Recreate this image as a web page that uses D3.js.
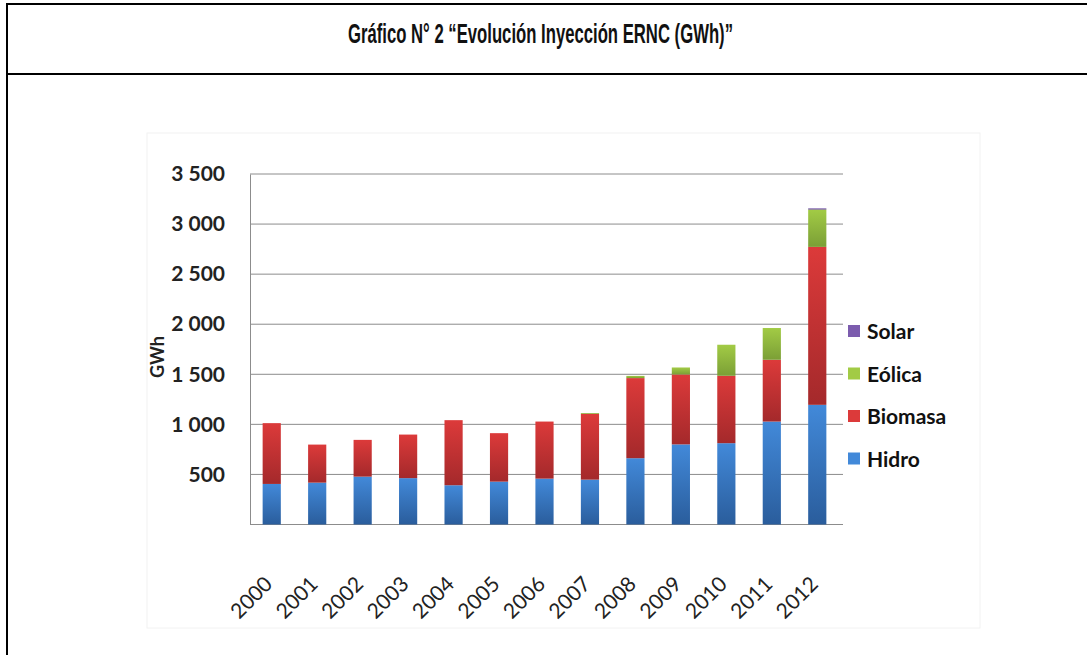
<!DOCTYPE html>
<html>
<head>
<meta charset="utf-8">
<script src="https://cdn.jsdelivr.net/npm/d3@7"></script>
<style>
  html, body { margin: 0; padding: 0; background: #fff; }
  svg { display: block; }
</style>
</head>
<body>
<div id="chart"></div>
<script>
const years = ['2000','2001','2002','2003','2004','2005','2006','2007','2008','2009','2010','2011','2012'];
const hidro   = [405, 418, 478, 463, 392, 428, 458, 448, 662, 800, 812, 1028, 1195];
const biomasa = [607, 380, 367, 435, 650, 484, 570, 657, 800, 698, 673, 617, 1577];
const eolica  = [0, 0, 0, 0, 0, 0, 0, 8, 22, 70, 310, 317, 373];
const solar   = [0, 0, 0, 0, 0, 0, 0, 0, 0, 0, 0, 0, 12];
const seriesNames = ['Hidro', 'Biomasa', 'Eólica', 'Solar'];
const yTicks = [500, 1000, 1500, 2000, 2500, 3000, 3500];

const W = 1087, H = 655;
const COLORS = {
  Hidro:   ['#4289d9', '#2a5d9c'],
  Biomasa: ['#dc3a3a', '#a4292b'],
  'Eólica': ['#a2cb45', '#7b9f36'],
  Solar:   ['#7c5cae', '#5c3f8a'],
};

const svg = d3.select('#chart').append('svg')
  .attr('width', W).attr('height', H)
  .attr('viewBox', `0 0 ${W} ${H}`);

// page frame (table borders)
svg.append('line').attr('x1', 6).attr('x2', W).attr('y1', 4).attr('y2', 4)
  .attr('stroke', '#000').attr('stroke-width', 2);
svg.append('line').attr('x1', 6).attr('x2', W).attr('y1', 74).attr('y2', 74)
  .attr('stroke', '#000').attr('stroke-width', 2);
svg.append('line').attr('x1', 7).attr('x2', 7).attr('y1', 3).attr('y2', H)
  .attr('stroke', '#000').attr('stroke-width', 2);

// title, squeezed to match the narrow face of the original
svg.append('text')
  .attr('x', 348).attr('y', 43)
  .attr('textLength', 385)
  .attr('lengthAdjust', 'spacingAndGlyphs')
  .attr('font-family', "'Liberation Sans', Arial, sans-serif")
  .attr('font-size', '28px')
  .attr('font-weight', 'bold')
  .attr('fill', '#111')
  .text('Gráfico N° 2 “Evolución Inyección ERNC (GWh)”');

// faint frame of the pasted chart
svg.append('rect').attr('x', 147).attr('y', 133).attr('width', 833).attr('height', 495)
  .attr('fill', 'none').attr('stroke', '#f2f2f2');

const x = d3.scaleBand().domain(years).range([249, 840]).paddingInner(0.6).paddingOuter(0.3);
const y = d3.scaleLinear().domain([0, 3500]).range([524.5, 174]);

const defs = svg.append('defs');
seriesNames.forEach((s, i) => {
  const g = defs.append('linearGradient').attr('id', 'grad' + i)
    .attr('x1', 0).attr('y1', 0).attr('x2', 0).attr('y2', 1);
  g.append('stop').attr('offset', '0%').attr('stop-color', COLORS[s][0]);
  g.append('stop').attr('offset', '100%').attr('stop-color', COLORS[s][1]);
});

// grid lines
svg.append('g')
  .selectAll('line')
  .data(yTicks)
  .join('line')
  .attr('x1', 250).attr('x2', 843)
  .attr('y1', d => y(d)).attr('y2', d => y(d))
  .attr('stroke', '#8c8c8c').attr('stroke-width', 1);

// y axis
const yAxis = svg.append('g')
  .attr('transform', 'translate(250,0)')
  .call(d3.axisLeft(y).tickValues(yTicks).tickSize(0).tickPadding(25)
    .tickFormat(d => d3.format(',')(d).replace(',', ' ')));
yAxis.select('.domain').attr('stroke', '#8c8c8c');
yAxis.selectAll('text')
  .attr('font-family', 'Lato, sans-serif')
  .attr('font-size', '21px')
  .attr('font-weight', 'bold')
  .attr('fill', '#222')
  .style('white-space', 'pre');

// x axis baseline
svg.append('line').attr('x1', 250).attr('x2', 843).attr('y1', y(0)).attr('y2', y(0))
  .attr('stroke', '#8c8c8c');

// stacked bars
const table = years.map((yr, i) => ({
  year: yr, Hidro: hidro[i], Biomasa: biomasa[i], 'Eólica': eolica[i], Solar: solar[i]
}));
const stacked = d3.stack().keys(seriesNames)(table);

svg.append('g')
  .selectAll('g')
  .data(stacked)
  .join('g')
  .attr('fill', (d, i) => `url(#grad${i})`)
  .selectAll('rect')
  .data(d => d)
  .join('rect')
  .attr('x', d => x(d.data.year))
  .attr('width', x.bandwidth())
  .attr('y', d => y(d[1]))
  .attr('height', d => Math.max(0, y(d[0]) - y(d[1])));

// x labels
svg.append('g')
  .selectAll('text')
  .data(years)
  .join('text')
  .attr('transform', d => `translate(${x(d) + x.bandwidth() / 2 + 2},${y(0) + 61}) rotate(-45)`)
  .attr('text-anchor', 'end')
  .attr('font-family', 'Lato, sans-serif')
  .attr('font-size', '21px')
  .attr('fill', '#222')
  .text(d => d);

// y axis title
svg.append('text')
  .attr('transform', 'translate(164,357) rotate(-90)')
  .attr('text-anchor', 'middle')
  .attr('font-family', 'Lato, sans-serif')
  .attr('font-size', '18px')
  .attr('font-weight', 'bold')
  .attr('fill', '#222')
  .text('GWh');

// legend
const legendOrder = ['Solar', 'Eólica', 'Biomasa', 'Hidro'];
const leg = svg.append('g')
  .selectAll('g')
  .data(legendOrder)
  .join('g')
  .attr('transform', (d, i) => `translate(848,${331 + i * 42.5})`);
leg.append('rect').attr('x', 0).attr('y', -6).attr('width', 12).attr('height', 12)
  .attr('fill', d => COLORS[d][0]);
leg.append('text')
  .attr('x', 19).attr('y', 8)
  .attr('font-family', 'Lato, sans-serif')
  .attr('font-size', '21px')
  .attr('font-weight', 'bold')
  .attr('fill', '#111')
  .text(d => d);
</script>
</body>
</html>
